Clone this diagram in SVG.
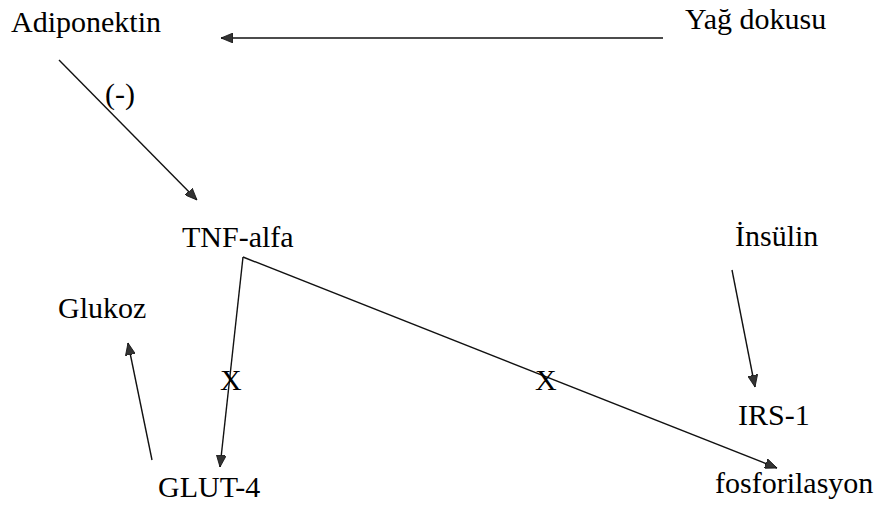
<svg xmlns="http://www.w3.org/2000/svg" width="888" height="506" viewBox="0 0 888 506">
<defs>
<marker id="ah" viewBox="0 0 12 10" refX="12" refY="5" markerWidth="12" markerHeight="10" markerUnits="userSpaceOnUse" orient="auto">
<path d="M0,0 L12,5 L0,10 Z" fill="#333" stroke="#111" stroke-width="0.8"/>
</marker>
</defs>
<rect width="888" height="506" fill="#fff"/>
<g font-family="Liberation Serif" font-size="30" fill="#000">
<g id="adiponektin"><text x="11" y="32" style="font-family:'Liberation Serif',serif">Adiponektin</text></g>
<g id="yag-dokusu"><text x="685" y="29" style="font-family:'Liberation Serif',serif">Yağ dokusu</text></g>
<g id="tnf-alfa"><text x="182" y="247" style="font-family:'Liberation Serif',serif">TNF-alfa</text></g>
<g id="insulin"><text x="735" y="246" style="font-family:'Liberation Serif',serif">İnsülin</text></g>
<g id="glukoz"><text x="58" y="318" style="font-family:'Liberation Serif',serif">Glukoz</text></g>
<g id="irs-1"><text x="738" y="425" style="font-family:'Liberation Serif',serif">IRS-1</text></g>
<g id="glut-4"><text x="158" y="497" style="font-family:'Liberation Serif',serif">GLUT-4</text></g>
<g id="fosforilasyon"><text x="715" y="493" style="font-family:'Liberation Serif',serif">fosforilasyon</text></g>
</g>
<g id="connectors" stroke="#111" stroke-width="1.4" fill="none" marker-end="url(#ah)">
<path d="M663,38 L221,38"/>
<path d="M59,60 L197,200"/>
<path d="M243,257 L220,467"/>
<path d="M243,257 L777,468"/>
<path d="M152,460 L128,343"/>
<path d="M732,270 L755,387"/>
</g>
<g font-family="Liberation Serif" font-size="30" fill="#000">
<text x="105" y="104" style="font-family:'Liberation Serif',serif">(-)</text>
<text x="220" y="390" style="font-family:'Liberation Serif',serif">X</text>
<text x="535" y="390" style="font-family:'Liberation Serif',serif">X</text>
</g>
</svg>
